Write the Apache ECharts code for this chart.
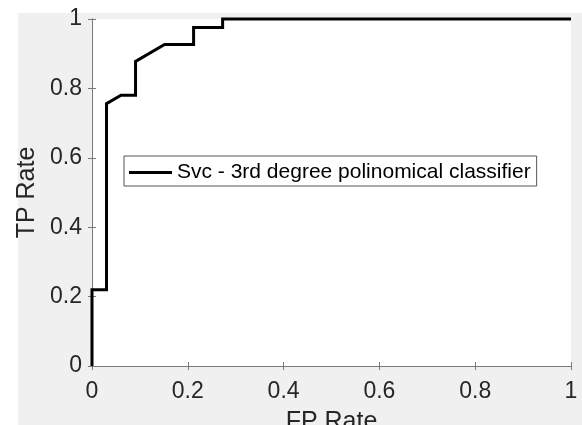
<!DOCTYPE html>
<html>
<head>
<meta charset="utf-8">
<script src="https://cdn.jsdelivr.net/npm/echarts@6/dist/echarts.min.js"></script>
<style>
html,body{margin:0;padding:0;background:#fff;}
#c{width:582px;height:425px;}
</style>
</head>
<body>
<div id="c"></div>
<script>
// ROC curve points
const fpRate = [0, 0, 0.0303, 0.0303, 0.0606, 0.0909, 0.0909, 0.1515, 0.2121, 0.2121, 0.2727, 0.2727, 1];
const tpRate = [0, 0.2195, 0.2195, 0.7561, 0.7805, 0.7805, 0.8780, 0.9268, 0.9268, 0.9756, 0.9756, 1, 1];
const seriesName = 'Svc - 3rd degree polinomical classifier';
const xTicks = [0, 0.2, 0.4, 0.6, 0.8, 1];
const yTicks = [0, 0.2, 0.4, 0.6, 0.8, 1];
const xName = 'FP Rate';
const yName = 'TP Rate';

const FONT = 'Liberation Sans, Arial, Helvetica, sans-serif';
const axisColor = '#7a7a7a';
const textColor = '#262626';

const chart = echarts.init(document.getElementById('c'), null, {renderer: 'canvas'});

function fmt(v) { return String(Math.round(v * 10) / 10); }

const baseAxis = {
  type: 'value', min: 0, max: 1, interval: 0.2,
  axisLine: {show: true, lineStyle: {color: axisColor, width: 1}},
  axisTick: {show: true, inside: true, length: 4, lineStyle: {color: axisColor, width: 1}},
  splitLine: {show: false}
};

chart.setOption({
  animation: false,
  backgroundColor: '#ffffff',
  graphic: [{
    type: 'rect', z: -10, silent: true,
    shape: {x: 18, y: 13, width: 600, height: 450},
    style: {fill: '#f0f0f0'}
  }],
  grid: {left: 92, top: 19, width: 479, height: 347, containLabel: false, outerBoundsMode: 'none',
    show: true, backgroundColor: '#ffffff', borderWidth: 0},
  legend: {
    show: true,
    left: 124, top: 156,
    orient: 'horizontal',
    backgroundColor: '#ffffff',
    borderColor: '#555555', borderWidth: 1, borderRadius: 0,
    padding: [6, 6, 3, 5],
    itemWidth: 43, itemHeight: 3, itemGap: 0, itemTextGap: 5,
    icon: 'rect',
    textStyle: {fontFamily: FONT, fontSize: 21, color: '#000', lineHeight: 21},
    data: [{name: seriesName, icon: 'rect', itemStyle: {color: '#000'}}]
  },
  xAxis: [
    Object.assign({}, baseAxis, {
      position: 'bottom',
      name: xName, nameLocation: 'middle', nameGap: 44,
      nameTextStyle: {fontFamily: FONT, fontSize: 25, color: textColor},
      axisLabel: {show: true, margin: 14, fontFamily: FONT, fontSize: 23, color: textColor,
        formatter: function (v) { return xTicks.some(t => Math.abs(t - v) < 1e-9) ? fmt(v) : ''; }}
    }),
    Object.assign({}, baseAxis, {position: 'top', axisLabel: {show: false}})
  ],
  yAxis: [
    Object.assign({}, baseAxis, {
      position: 'left',
      name: yName, nameLocation: 'middle', nameGap: 44,
      nameTextStyle: {fontFamily: FONT, fontSize: 25, color: textColor},
      axisLabel: {show: true, margin: 10, padding: [5, 0, 0, 0], fontFamily: FONT, fontSize: 23, color: textColor,
        formatter: function (v) { return yTicks.some(t => Math.abs(t - v) < 1e-9) ? fmt(v) : ''; }}
    }),
    Object.assign({}, baseAxis, {position: 'right', axisLabel: {show: false}})
  ],
  series: [{
    name: seriesName,
    type: 'line',
    xAxisIndex: 0, yAxisIndex: 0,
    data: fpRate.map((x, i) => [x, tpRate[i]]),
    showSymbol: false, symbol: 'none',
    clip: false,
    z: 5,
    lineStyle: {color: '#000', width: 3, join: 'miter'},
    itemStyle: {color: '#000'}
  }]
});
</script>
</body>
</html>
